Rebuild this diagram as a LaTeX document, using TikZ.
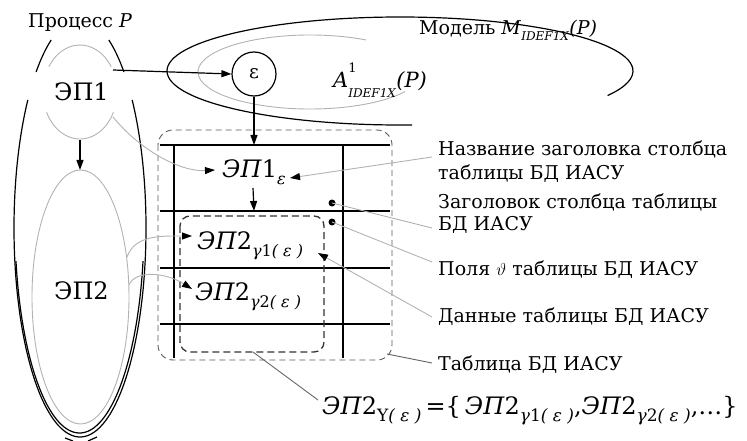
\documentclass[tikz,border=0pt]{standalone}
\usepackage{fontspec}
\setmainfont{DejaVu Serif}
\newcommand\lblfont{\fontsize{19}{24}\selectfont}
\newcommand\bigfont{\fontsize{24}{30}\selectfont}
\newcommand\subfont{\fontsize{16}{16}\selectfont}
\newcommand\subsfont{\fontsize{12}{12}\selectfont}
\usetikzlibrary{arrows.meta,calc}
\newcommand\mysub[1]{\raisebox{-0.3em}{\subfont #1}}
\newcommand\mysubs[1]{\raisebox{-0.3em}{\subsfont #1}}
\newcommand\mysubf[1]{\raisebox{-0.3em}{\fontsize{17}{17}\selectfont #1}}
\begin{document}
\begin{tikzpicture}[x=1pt,y=-1pt,
  blk/.style={line width=1.2pt,draw=black},
  gr/.style={draw=gray!60,line width=0.9pt},
  grd/.style={draw=gray!80!black,line width=0.9pt},
  tip/.style={-{Triangle[length=10pt,width=7pt]}},
  gtip/.style={-{Triangle[length=10pt,width=7pt,black]}},
  big/.style={font=\rmfamily\bigfont,inner sep=0pt,anchor=base west},
  lbl/.style={font=\rmfamily\lblfont,inner sep=0pt,anchor=base west},
  dot/.style={circle,fill=black,inner sep=0pt,minimum size=7pt},
  ring/.style={circle,draw=black,line width=1.2pt,minimum size=44pt,inner sep=0pt,font=\lblfont},
]
\useasboundingbox (0,0) rectangle (747,441);

% ---- process P outer shape
\draw[blk] (80,228) ++(-37.8:66 and 209) arc[start angle=-37.8,end angle=217.8,x radius=66,y radius=209];
\draw[blk] (80,228) ++(-64.1:66 and 209) arc[start angle=-64.1,end angle=-48.3,x radius=66,y radius=209];
\draw[blk] (80,228) ++(228.3:66 and 209) arc[start angle=228.3,end angle=244.1,x radius=66,y radius=209];
\draw[blk] (79.5,225) ++(10:64.5 and 208) arc[start angle=10,end angle=170,x radius=64.5,y radius=208];
\draw[blk] (65,438) -- (73,441);
\draw[blk] (97,437) -- (88,441);
\node[lbl] (proc) at (28,28) {Процесс \textit{P}};

% ---- EP1 gray arcs
\draw[gr] (80,92) ++(-32.5:37 and 47) arc[start angle=-32.5,end angle=-147.5,x radius=37,y radius=47];
\draw[gr] (80,92) ++(25.5:37 and 47) arc[start angle=25.5,end angle=154.5,x radius=37,y radius=47];
\node[big] (ep1) at (54,101) {ЭП1};
% ---- EP2 gray ellipse
\draw[gr] (80.5,297) ellipse[x radius=48.5,y radius=127];
\node[big] (ep2) at (54,299) {ЭП2};

% ---- model ellipse
\draw[blk] (400,71) ++(87:233 and 54) arc[start angle=87,end angle=387,x radius=233,y radius=54];
\draw[gr] (310,72) ++(32:112 and 37) arc[start angle=32,end angle=300,x radius=112,y radius=37];
\node[lbl] (model) at (419,35) {Модель \textit{M}\mysubs{\textit{IDEF1X}}\textit{(P)}};
\node[lbl,font=\rmfamily\fontsize{21}{24}\selectfont] (amod) at (333,88) {\textit{A}\rlap{\raisebox{0.75em}{\fontsize{13}{13}\selectfont 1}}\raisebox{-0.45em}{\fontsize{12}{12}\selectfont\textit{IDEF1X}}\textit{(P)}};
\node[ring] (eps) at (254,74) {ε};

% ---- table
\draw[draw=gray!70!black,line width=0.9pt,dash pattern=on 6pt off 4pt,rounded corners=15pt] (158,130) rectangle (392,360);
\foreach \yy in {145,211,268,324} \draw[blk] (160,\yy) -- (390,\yy);
\draw[blk] (174,145) -- (174,358);
\draw[blk] (343,145) -- (343,358);
\draw[draw=black!80,line width=1.3pt,dash pattern=on 7pt off 4pt,rounded corners=10pt] (180,216) rectangle (324,352);
\coordinate (innerbot) at (253,352);
\coordinate (tabcorner) at (387,354);
\coordinate (tabtop) at (254,145);
\coordinate (row2) at (254,211);

\node[big] (ep1e) at (222,177) {\textit{ЭП}1\mysub{\textit{ε}}};
\node[big] (ep2a) at (197,249) {\textit{ЭП}2\mysub{\textit{γ}1\textit{( ε )}}};
\node[big] (ep2b) at (195,300) {\textit{ЭП}2\mysub{\textit{γ}2\textit{( ε )}}};

\node[dot] (d1) at (332,203) {};
\node[dot] (d2) at (332,222) {};

% ---- labels
\node[lbl] (l1a) at (438,156) {Название заголовка столбца};
\node[lbl] (l1b) at (438,179) {таблицы БД ИАСУ};
\node[lbl] (l2a) at (438,208) {Заголовок столбца таблицы};
\node[lbl] (l2b) at (438,230) {БД ИАСУ};
\node[lbl] (l3) at (438,275) {Поля $\vartheta$ таблицы БД ИАСУ};
\node[lbl] (l4) at (438,322) {Данные таблицы БД ИАСУ};
\node[lbl] (l5) at (438,370) {Таблица БД ИАСУ};
\node[big] (form) at (322,414) {\textit{ЭП}2\mysubf{Υ\textit{( ε )}}\,=\{\,\textit{ЭП}2\mysubf{\textit{γ}1\textit{( ε )}},\textit{ЭП}2\mysubf{\textit{γ}2\textit{( ε )}},…\}};

\coordinate (c1) at (432,157);
\coordinate (c2) at (432,228);
\coordinate (c3) at (432,262);
\coordinate (c4) at (432,317);
\coordinate (c5) at (432,363);
\coordinate (t1) at (290,178);
\coordinate (t4) at (318,253);

% ---- connectors
\coordinate (ep1r) at (113,70);
\draw[blk,tip] (ep1r) -- (eps.west);
\draw[blk,tip] (eps.south) -- (tabtop);
\coordinate (ep1eb) at (253,188);
\draw[blk,tip] (ep1eb) -- (row2);
\coordinate (ep1b) at (80,140);
\coordinate (ep2t) at (80,170);
\draw[blk,tip] (ep1b) -- (ep2t);
\coordinate (ep1br) at (113,117);
\coordinate (ep1et) at (215,170);
\draw[gr,gtip] (ep1br) .. controls (140,150) and (180,172) .. (ep1et);
\coordinate (ep2r1) at (127,257);
\coordinate (ep2at) at (192,236);
\draw[gr,gtip] (ep2r1) .. controls (135,235) and (160,236) .. (ep2at);
\coordinate (ep2r2) at (129,285);
\coordinate (ep2bt) at (192,289);
\draw[gr,gtip] (ep2r2) .. controls (135,270) and (165,272) .. (ep2bt);
\draw[gr,gtip] (c1) -- (t1);
\draw[gr] (d1.center) -- (c2);
\draw[gr] (d2.center) -- (c3);
\draw[gr,gtip] (c4) -- (t4);
\draw[grd] (tabcorner) -- (c5);
\draw[grd] (innerbot) -- ($(form.base west)+(-4,-14)$);
\end{tikzpicture}
\end{document}
